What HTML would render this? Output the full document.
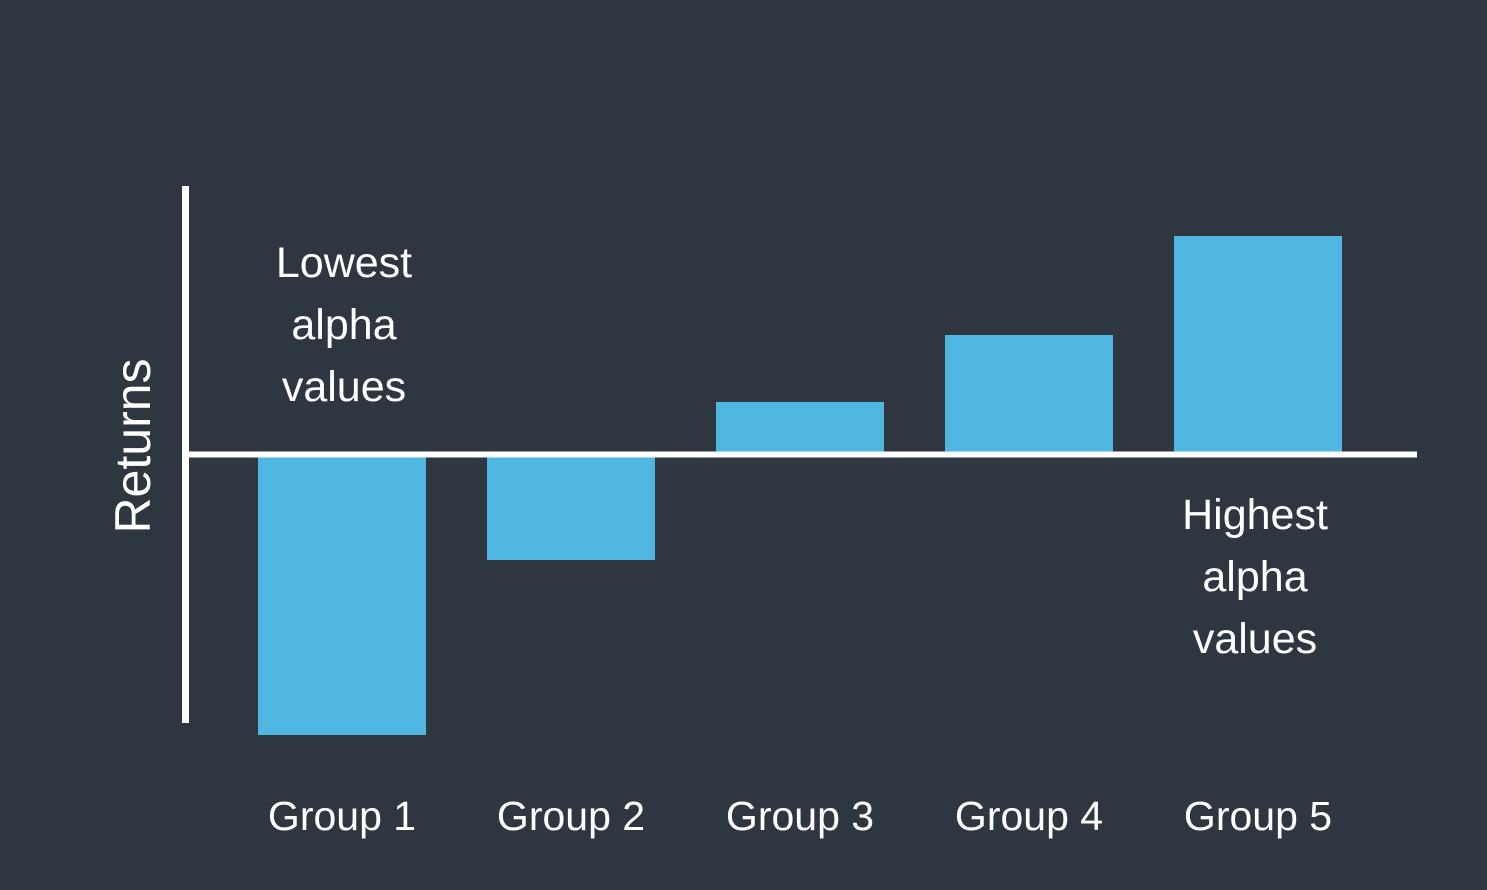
<!DOCTYPE html>
<html><head><meta charset="utf-8"><style>
html,body{margin:0;padding:0;background:#2e3640;}
svg{display:block;}
text{font-family:"Liberation Sans",sans-serif;fill:#ffffff;}
</style></head><body>
<svg id="chart" width="1487" height="890">
<rect width="1487" height="890" fill="#2e3640"/>
<g id="bars"></g>
<rect x="182" y="186" width="7" height="537" fill="#fff"/>
<rect x="186" y="451.5" width="1231" height="6" fill="#fff"/>
<text x="150" y="446" font-size="50" text-anchor="middle" transform="rotate(-90 150 446)">Returns</text>
<g font-size="43" text-anchor="middle">
<text x="344" y="277">Lowest</text><text x="344" y="339">alpha</text><text x="344" y="401">values</text></g>
<g font-size="43" text-anchor="middle">
<text x="1255" y="529">Highest</text><text x="1255" y="591">alpha</text><text x="1255" y="653">values</text></g>
<g id="xlabels"></g>
</svg>
<script>
const categories=["Group 1","Group 2","Group 3","Group 4","Group 5"];
const values=[-2.77,-1.02,0.53,1.2,2.19];
const zeroY=455, pxPerUnit=100, firstX=258, step=229, barW=168;
function xPos(i){return firstX+i*step;}
function yPos(v){return zeroY-v*pxPerUnit;}
const ns="http://www.w3.org/2000/svg";
const bars=document.getElementById('bars'), xl=document.getElementById('xlabels');
values.forEach((v,i)=>{
  const r=document.createElementNS(ns,'rect');
  const y0=yPos(0), y1=yPos(v);
  r.setAttribute('x',xPos(i));r.setAttribute('width',barW);
  r.setAttribute('y',Math.min(y0,y1));r.setAttribute('height',Math.abs(y1-y0)+(v<0?3:0));
  r.setAttribute('fill','#4fb7e2');
  
  
  bars.appendChild(r);
  const t=document.createElementNS(ns,'text');
  t.setAttribute('x',xPos(i)+barW/2);t.setAttribute('y',830);
  t.setAttribute('font-size','41');t.setAttribute('text-anchor','middle');
  t.textContent=categories[i];
  
  
  xl.appendChild(t);
});
</script>
</body></html>
